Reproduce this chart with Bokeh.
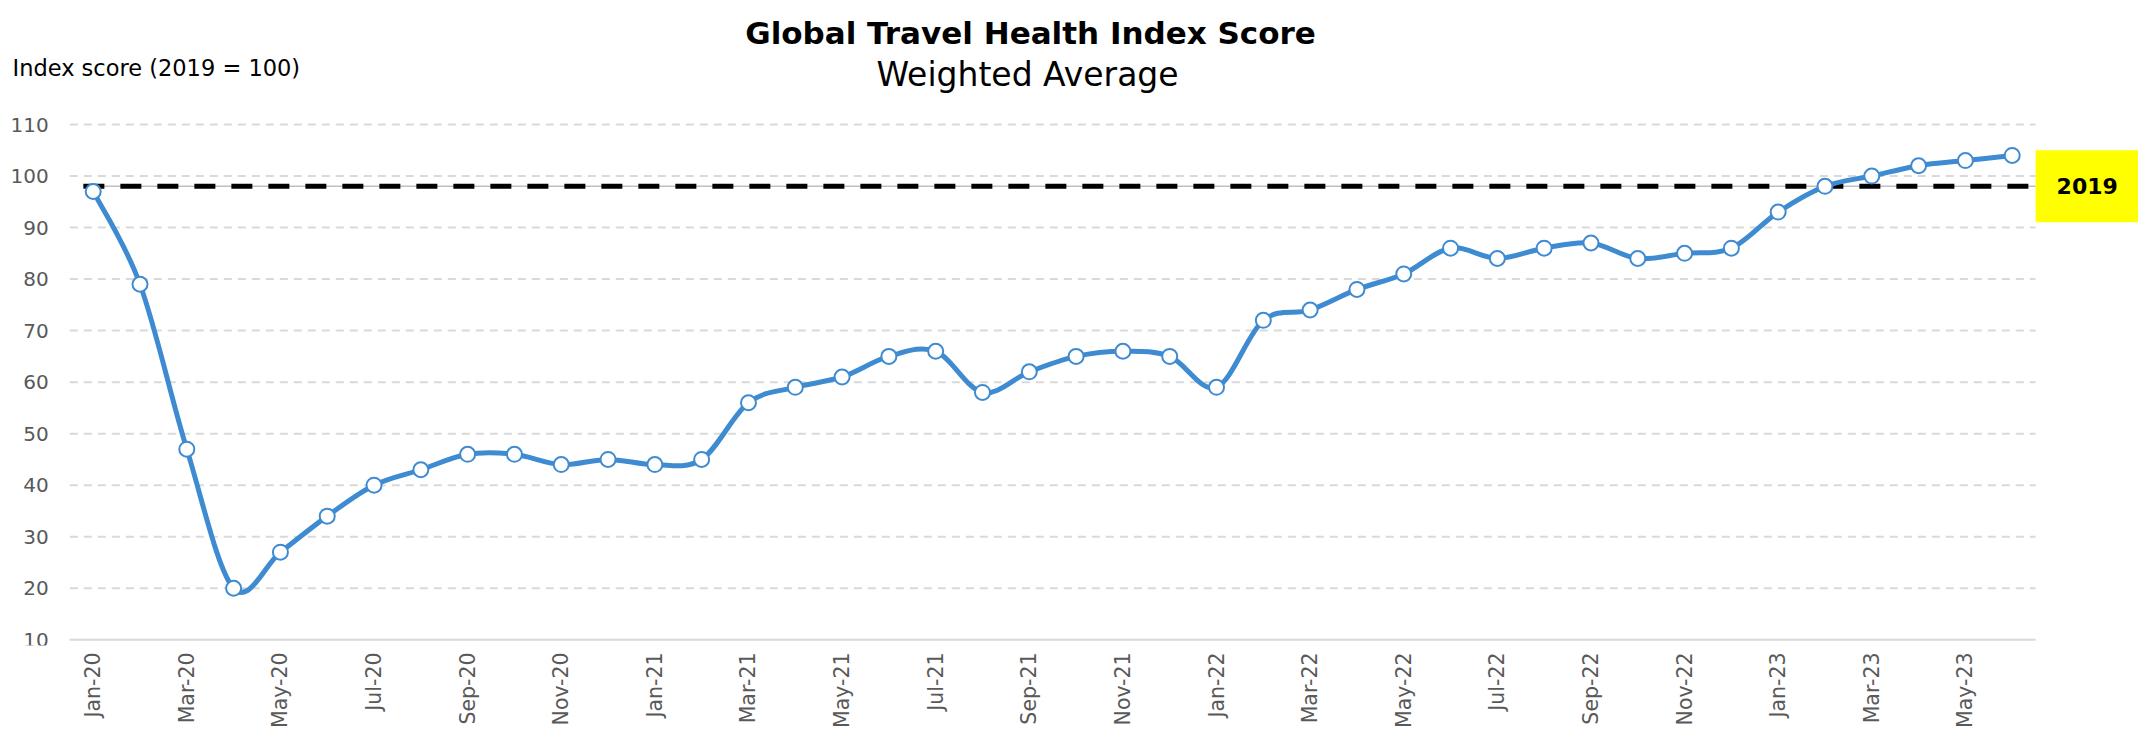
import math
import numpy as np
from bokeh.plotting import figure
from bokeh.models import Range1d, FixedTicker, Label
from bokeh.embed import file_html
from bokeh.resources import INLINE

# ---------------- data ----------------
months = ["Jan-20", "Feb-20", "Mar-20", "Apr-20", "May-20", "Jun-20", "Jul-20", "Aug-20",
          "Sep-20", "Oct-20", "Nov-20", "Dec-20", "Jan-21", "Feb-21", "Mar-21", "Apr-21",
          "May-21", "Jun-21", "Jul-21", "Aug-21", "Sep-21", "Oct-21", "Nov-21", "Dec-21",
          "Jan-22", "Feb-22", "Mar-22", "Apr-22", "May-22", "Jun-22", "Jul-22", "Aug-22",
          "Sep-22", "Oct-22", "Nov-22", "Dec-22", "Jan-23", "Feb-23", "Mar-23", "Apr-23",
          "May-23", "Jun-23"]
scores = [97, 79, 47, 20, 27, 34, 40, 43, 46, 46, 44, 45, 44, 45, 56, 59, 61, 65, 66, 58,
          62, 65, 66, 65, 59, 72, 74, 78, 81, 86, 84, 86, 87, 84, 85, 86, 93, 98, 100, 102,
          103, 104]
y_ticks = [10, 20, 30, 40, 50, 60, 70, 80, 90, 100, 110]
y_tick_labels = [str(t) for t in y_ticks]
baseline_value = 98
baseline_label = "2019"

title_text = "Global Travel Health Index Score"
subtitle_text = "Weighted Average"
ylabel_text = "Index score (2019 = 100)"

# ---------------- styles / layout constants ----------------
BLUE = "#3F8BD2"
GRID = "#D9D9D9"
TICK_TXT = "#595959"
FONT = "DejaVu Sans"

W, H = 2138, 732
FRAME_H = 645                  # frame spans the whole width and everything above the x labels
BOTTOM = H - FRAME_H
AXIS_PX = 639.3                # pixel row (from top) of the value-10 axis line
X0_PX = 92.7                   # pixel position of the first month
X_STEP = 46.805                # pixels per month
Y_PX = 5.153                   # pixels per index point

n = len(months)
xs = np.arange(n, dtype=float)
ys = np.array(scores, dtype=float)

x_start = -X0_PX / X_STEP
x_end = x_start + W / X_STEP
y_start = y_ticks[0] - (FRAME_H - AXIS_PX) / Y_PX
y_end = y_start + FRAME_H / Y_PX

# smoothed line (cubic Bezier per segment, Catmull-Rom style control points)
xp = np.concatenate([[xs[0]], xs, [xs[-1]]])
yp = np.concatenate([[ys[0]], ys, [ys[-1]]])
i = np.arange(n - 1)
x0, y0 = xs[:-1], ys[:-1]
x1, y1 = xs[1:], ys[1:]
cx0 = x0 + (xp[i + 2] - xp[i]) / 6.0
cy0 = y0 + (yp[i + 2] - yp[i]) / 6.0
cx1 = x1 - (xp[i + 3] - xp[i + 1]) / 6.0
cy1 = y1 - (yp[i + 3] - yp[i + 1]) / 6.0

p = figure(width=W, height=H, min_border_left=0, min_border_right=0,
           min_border_top=0, min_border_bottom=BOTTOM,
           x_range=Range1d(x_start, x_end), y_range=Range1d(y_start, y_end),
           y_axis_type=None, output_backend="svg", toolbar_location=None)
p.outline_line_color = None
p.xgrid.visible = False

# x axis (months)
p.xaxis.ticker = FixedTicker(ticks=list(range(0, n, 2)))
p.xaxis.major_label_overrides = {k: months[k] for k in range(0, n, 2)}
p.xaxis.major_label_orientation = math.pi / 2
p.xaxis.axis_line_color = None
p.xaxis.major_tick_line_color = None
p.xaxis.minor_tick_line_color = None
p.xaxis.major_tick_out = 0
p.xaxis.major_tick_in = 0
p.xaxis.minor_tick_out = 0
p.xaxis.minor_tick_in = 0
p.xaxis.major_label_standoff = 7
p.xaxis.major_label_text_font = FONT
p.xaxis.major_label_text_font_size = "20.5px"
p.xaxis.major_label_text_color = TICK_TXT

# value axis line, dashed gridlines and their value labels
p.segment(x0=[-0.5], x1=[n - 0.5], y0=[y_ticks[0]], y1=[y_ticks[0]],
          line_color=GRID, line_width=2)
grid_vals = y_ticks[1:]
p.segment(x0=[-0.5] * len(grid_vals), x1=[n - 0.5] * len(grid_vals),
          y0=grid_vals, y1=grid_vals, line_color=GRID, line_width=2, line_dash="8 6")
p.text(x=[-0.5] * len(y_ticks), y=y_ticks, text=y_tick_labels, x_offset=-21,
       text_align="right", text_baseline="middle", text_font={"value": FONT},
       text_font_size="20px", text_color=TICK_TXT)

# 2019 reference line
p.segment(x0=[-0.21], x1=[n - 0.5], y0=[baseline_value], y1=[baseline_value],
          line_color="#BFBFBF", line_width=1.5)
p.segment(x0=[-0.21], x1=[n - 0.5], y0=[baseline_value], y1=[baseline_value],
          line_color="black", line_width=5, line_dash="21 16")

# series
p.bezier(x0=x0, y0=y0, x1=x1, y1=y1, cx0=cx0, cy0=cy0, cx1=cx1, cy1=cy1,
         line_color=BLUE, line_width=5, line_cap="round")
p.scatter(xs, ys, size=15, fill_color="white", line_color=BLUE, line_width=2)

# yellow tag for the reference line
p.add_layout(Label(x=n - 0.5, y=baseline_value, text=baseline_label, anchor="center_left",
                   text_font=FONT, text_font_style="bold", text_font_size="22px",
                   text_color="black", background_fill_color="#FFFF00",
                   padding=dict(left=21, right=40, top=28, bottom=28)))

# titles and y label (screen units, measured from the frame's bottom-left)
p.add_layout(Label(x=1030, y=FRAME_H - 32, x_units="screen", y_units="screen",
                   text=title_text, text_align="center", text_baseline="alphabetic",
                   text_font=FONT, text_font_style="bold", text_font_size="31px",
                   text_color="black"))
p.add_layout(Label(x=1027, y=FRAME_H - 74, x_units="screen", y_units="screen",
                   text=subtitle_text, text_align="center", text_baseline="alphabetic",
                   text_font=FONT, text_font_size="33px", text_color="black"))
p.add_layout(Label(x=12, y=FRAME_H - 67, x_units="screen", y_units="screen",
                   text=ylabel_text, text_align="left", text_baseline="alphabetic",
                   text_font=FONT, text_font_size="22.5px", text_color="black"))

open("out.html", "w").write(file_html(p, INLINE))
